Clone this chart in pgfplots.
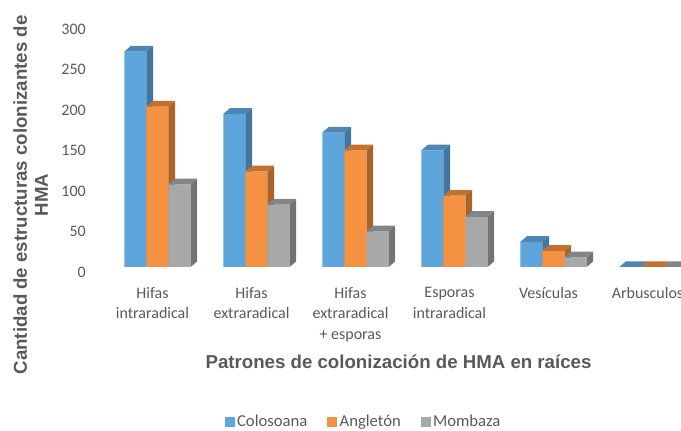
\documentclass[border=0pt]{standalone}
\usepackage{pgfplots}
\usepackage{pgfplotstable}
\pgfplotsset{compat=1.18}
\usepackage{fontspec}
\setmainfont{Carlito}
\newfontfamily\arialfont{Liberation Sans}

\definecolor{cblue}{RGB}{93,165,218}
\definecolor{cblueS}{RGB}{66,117,160}
\definecolor{cblueT}{RGB}{78,135,180}
\definecolor{corange}{RGB}{245,146,66}
\definecolor{corangeS}{RGB}{168,100,42}
\definecolor{corangeT}{RGB}{196,112,46}
\definecolor{cgray}{RGB}{166,168,170}
\definecolor{cgrayS}{RGB}{112,116,118}
\definecolor{cgrayT}{RGB}{130,134,136}
\definecolor{txt}{RGB}{89,89,89}

\pgfplotstableread{
g C A M
0 266 198 102
1 189 118 77
2 166 144 44
3 144 88 62
4 31 20 12
5 0 0 0
}\datatable

% geometry (axis units)
\def\hw{0.1116}   % half bar width
\def\ddx{0.0667}  % depth in x
\def\ddy{7.0}     % depth in y

\newcommand\facesfor[4]{% #1 column, #2 shift, #3 side colour, #4 top colour
  \pgfplotsforeachungrouped \gi in {0,...,5}{%
    \pgfplotstablegetelem{\gi}{#1}\of\datatable
    \let\val\pgfplotsretval
    \pgfmathsetmacro\xa{\gi+#2+\hw}%
    \pgfmathsetmacro\xb{\xa+\ddx}%
    \pgfmathsetmacro\xc{\gi+#2-\hw}%
    \pgfmathsetmacro\xd{\xc+\ddx}%
    \pgfmathsetmacro\vt{\val+\ddy}%
    \edef\cmd{%
      \noexpand\addplot[fill=#3,draw=none,forget plot] coordinates {(\xa,0) (\xb,\ddy) (\xb,\vt) (\xa,\val)};
      \noexpand\addplot[fill=#4,draw=none,forget plot] coordinates {(\xc,\val) (\xa,\val) (\xb,\vt) (\xd,\vt)};
    }\cmd
  }%
}

\begin{document}
\begin{tikzpicture}
\path[use as bounding box] (0,0) rectangle (510.75pt,323.25pt);
\clip (0,0) rectangle (510.75pt,323.25pt);
\begin{axis}[
  at={(69pt,123pt)}, anchor=south west,
  scale only axis,
  width=441.75pt, height=182.25pt,
  xmin=-0.6111, xmax=5.3384,
  ymin=0, ymax=300,
  clip=false,
  axis x line*=bottom, axis y line*=left,
  axis line style={draw=none},
  major tick length=0pt,
  tick style={draw=none},
  ytick={0,50,...,300},
  xtick={0,...,5},
  xticklabels={{Hifas\\intraradical},{Hifas\\extraradical},{Hifas\\extraradical\\+ esporas},{Esporas\\intraradical},{Vesículas},{Arbusculos}},
  /pgf/number format/assume math mode=true,
  yticklabel style={anchor=east, inner sep=0pt, xshift=-4.5pt, yshift=-3.75pt, font=\fontsize{12}{14}\selectfont, text=txt},
  xticklabel style={anchor=north, inner sep=0pt, yshift=-15pt, align=center, font=\fontsize{12}{15.5}\selectfont, text=txt},
  every axis x label/.style={at={(axis description cs:0.5204,-0.3897)}, anchor=center, font=\arialfont\bfseries\fontsize{14}{16}\selectfont, text=txt},
  every axis y label/.style={at={(axis description cs:-0.1044,0.2963)}, rotate=90, anchor=center, align=center, font=\arialfont\bfseries\fontsize{14}{15.75}\selectfont, text=txt},
  xlabel={Patrones de colonización de HMA en raíces},
  ylabel={Cantidad de estructuras colonizantes de\\HMA},
  legend columns=3,
  legend style={at={(axis description cs:0.4618,-0.638)}, anchor=center, draw=none, fill=none,
    font=\fontsize{12.5}{14}\selectfont, text=txt,
    /tikz/every even column/.append style={column sep=13pt},
    nodes={inner xsep=2pt, inner ysep=1pt}},
]
\addplot[ybar, bar width=0.2232, bar shift=-0.1732, fill=cblue, draw=none, forget plot] table[x=g, y=C]{\datatable};
\facesfor{C}{-0.1732}{cblueS}{cblueT}
\addplot[ybar, bar width=0.2232, bar shift=0.05, fill=corange, draw=none, forget plot] table[x=g, y=A]{\datatable};
\facesfor{A}{0.05}{corangeS}{corangeT}
\addplot[ybar, bar width=0.2232, bar shift=0.2732, fill=cgray, draw=none, forget plot] table[x=g, y=M]{\datatable};
\facesfor{M}{0.2732}{cgrayS}{cgrayT}

\addlegendimage{legend image code/.code={\fill[cblue] (0pt,-3.4pt) rectangle (6.75pt,3.4pt);}}
\addlegendentry{Colosoana}
\addlegendimage{legend image code/.code={\fill[corange] (0pt,-3.4pt) rectangle (6.75pt,3.4pt);}}
\addlegendentry{Angletón}
\addlegendimage{legend image code/.code={\fill[cgray] (0pt,-3.4pt) rectangle (6.75pt,3.4pt);}}
\addlegendentry{Mombaza}
\end{axis}
\end{tikzpicture}
\end{document}
